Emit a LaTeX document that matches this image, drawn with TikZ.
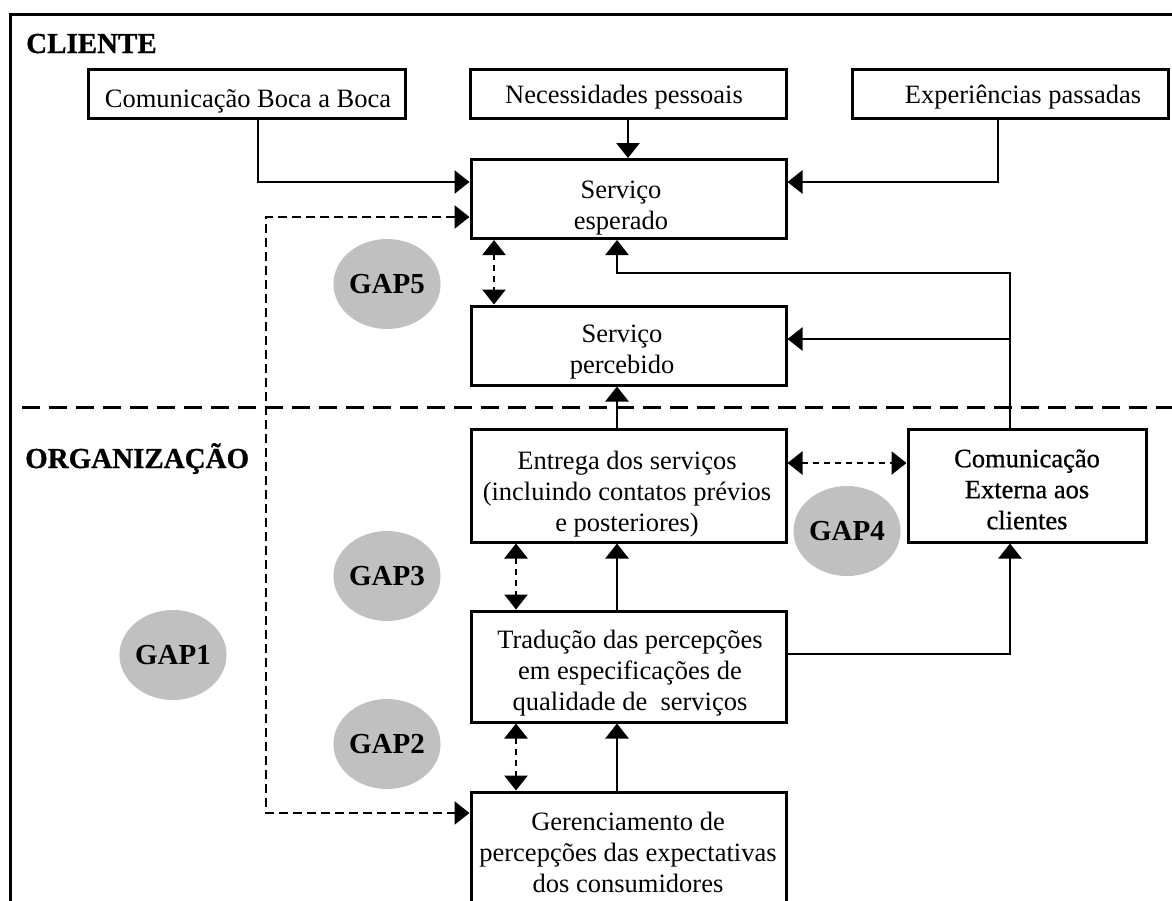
\documentclass[tikz,border=0pt]{standalone}
\usepackage{fontspec}
\setmainfont{Liberation Serif}
\newfontfamily\heavyrm[FakeBold=0.8]{Liberation Serif}
\usetikzlibrary{arrows.meta,calc,shapes.geometric}
\definecolor{gapgray}{HTML}{C0C0C0}
\newcommand\tstrut{\rule{0pt}{20pt}}
\begin{document}
\begin{tikzpicture}[x=1pt,y=-1pt,
  box/.style={draw, line width=3pt, rectangle, inner sep=0pt},
  txt/.style={font=\fontsize{26.5}{31}\selectfont, align=center, inner sep=0pt, anchor=north},
  hdr/.style={font=\heavyrm\bfseries\fontsize{29}{34}\selectfont, inner sep=0pt, anchor=base west},
  gap/.style={ellipse, fill=gapgray, minimum width=102pt, minimum height=90pt, inner sep=0pt, font=\bfseries\fontsize{29}{34}\selectfont},
  arr/.style={line width=2.7pt, -{Triangle[length=15pt,width=23pt]}},
  gaparr/.style={line width=2.7pt, dash pattern=on 6pt off 5pt, {Triangle[length=15pt,width=23pt]}-{Triangle[length=15pt,width=23pt]}},
  gapone/.style={line width=2.6pt, dash pattern=on 9pt off 5pt, {Triangle[length=15pt,width=23pt]}-{Triangle[length=15pt,width=23pt]}},
  sepline/.style={line width=3pt, dash pattern=on 18pt off 9pt},
  frameline/.style={line width=3pt}]
\useasboundingbox (0,0) rectangle (1172,900);
\fill[white] (0,0) rectangle (1172,900);

% frame
\coordinate (frBL) at (10,902);
\coordinate (frTL) at (10,14);
\coordinate (frTR) at (1174,14);
\draw[frameline] (frBL) -- (frTL) -- (frTR);

% separator
\coordinate (sepL) at (22,407);
\coordinate (sepR) at (1174,407);
\draw[sepline] (sepL) -- (sepR);

% headings
\node[hdr] (cliente) at (26,53) {CLIENTE};
\node[hdr] (org) at (25,468) {ORGANIZAÇÃO};

% boxes
\node[box, minimum width=317pt, minimum height=49pt] (boca) at (246.5,93.5) {};
\node[box, minimum width=316pt, minimum height=49pt] (nec) at (628,93.5) {};
\node[box, minimum width=316pt, minimum height=49pt] (exp) at (1010,93.5) {};
\node[box, minimum width=315pt, minimum height=79pt] (se) at (628.5,199) {};
\node[box, minimum width=315pt, minimum height=79pt] (sp) at (628.5,345.5) {};
\node[box, minimum width=315pt, minimum height=113pt] (ent) at (628.5,485.5) {};
\node[box, minimum width=238pt, minimum height=113pt] (ce) at (1027,485.5) {};
\node[box, minimum width=315pt, minimum height=111pt] (tr) at (628.5,666.5) {};
\node[box, minimum width=315pt, minimum height=120pt] (ger) at (628.5,852) {};

% texts
\node[txt] (boca-t) at (248,87) {\tstrut Comunicação Boca a Boca};
\node[txt] (nec-t) at (624,83) {\tstrut Necessidades pessoais};
\node[txt] (exp-t) at (1023,83) {\tstrut Experiências passadas};
\node[txt] (se-t) at (621,178) {\tstrut Serviço\\esperado};
\node[txt] (sp-t) at (622,322) {\tstrut Serviço\\percebido};
\node[txt] (ent-t) at (627,449) {\tstrut Entrega dos serviços\\(incluindo contatos prévios\\e posteriores)};
\node[txt, font=\heavyrm\fontsize{26.5}{31}\selectfont] (ce-t) at (1027,447) {\tstrut Comunicação\\Externa aos\\clientes};
\node[txt] (tr-t) at (630,628) {\tstrut Tradução das percepções\\em especificações de\\qualidade de\ \ serviços};
\node[txt] (ger-t) at (628,810) {\tstrut Gerenciamento de\\percepções das expectativas\\dos consumidores};

% gaps
\node[gap] (gap5) at (387,284) {GAP5};
\node[gap] (gap3) at (387,576) {GAP3};
\node[gap] (gap2) at (387,744) {GAP2};
\node[gap] (gap1) at (173,655) {GAP1};
\node[gap] (gap4) at (847,531) {GAP4};

% solid connectors
\draw[arr] ($(boca.south)+(11.5,0)$) |- ($(se.west)+(0,-17)$);
\draw[arr] (nec.south) -- (se.north -| nec.south);
\draw[arr] ($(exp.south)+(-12,0)$) |- ($(se.east)+(0,-17)$);
\coordinate (vline) at ($(ce.north)+(-17,0)$);
\draw[arr] (vline) |- ($(se.south)+(-11.5,33)$) -- ($(se.south)+(-11.5,0)$);
\coordinate (spin) at ($(sp.east)+(0,-6.5)$);
\draw[arr] (vline |- spin) -- (spin);
\draw[arr] ($(ent.north)+(-11.5,0)$) -- ($(sp.south)+(-11.5,0)$);
\draw[arr] ($(tr.north)+(-11.5,0)$) -- ($(ent.south)+(-11.5,0)$);
\draw[arr] ($(ger.north)+(-11.5,0)$) -- ($(tr.south)+(-11.5,0)$);
\draw[arr] ($(tr.east)+(0,-12.5)$) -| ($(ce.south)+(-17,0)$);

% dashed gap connectors
\draw[gaparr] ($(se.south)+(-134.5,0)$) -- ($(sp.north)+(-134.5,0)$);
\draw[gaparr] ($(ent.south)+(-112.5,0)$) -- ($(tr.north)+(-112.5,0)$);
\draw[gaparr] ($(tr.south)+(-112.5,0)$) -- ($(ger.north)+(-112.5,0)$);
\draw[gaparr] ($(ent.east)+(0,-22.5)$) -- ($(ce.west)+(0,-22.5)$);
\coordinate (g1) at (266,500);
\draw[gapone] ($(se.west)+(0,18)$) -| (g1) |- ($(ger.west)+(0,-39)$);
\end{tikzpicture}
\end{document}
